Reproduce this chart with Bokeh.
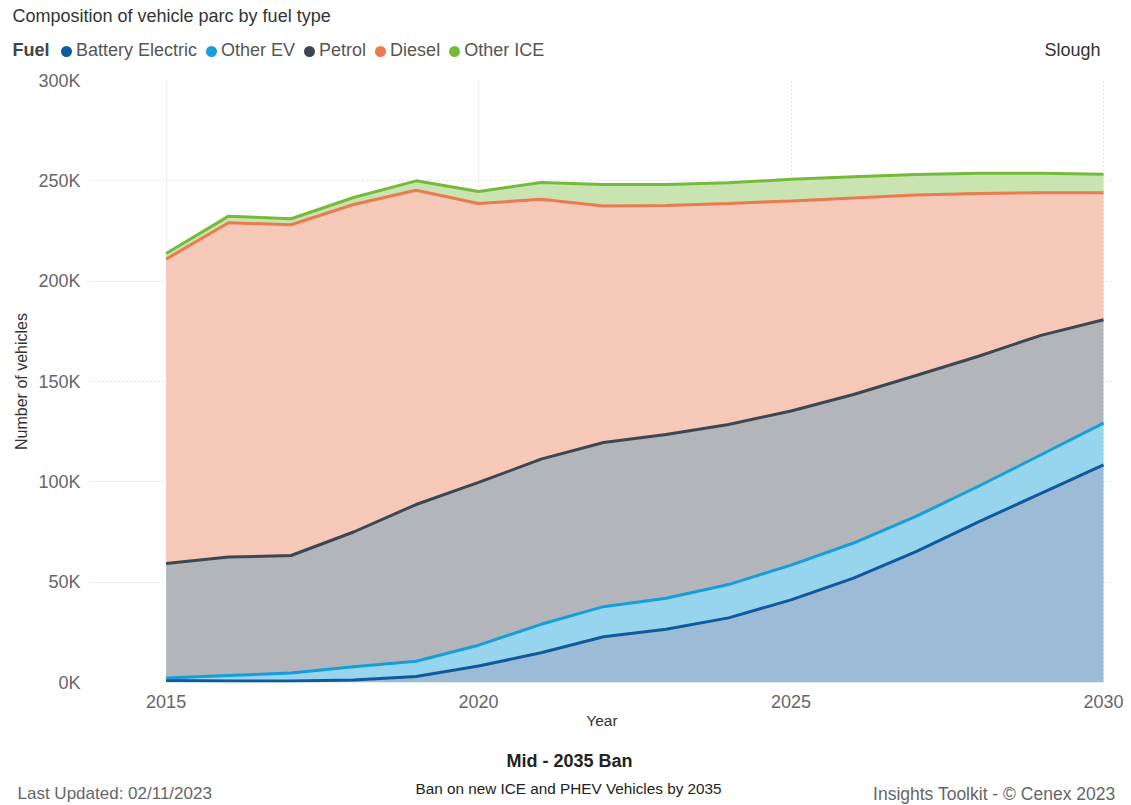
from bokeh.plotting import figure
from bokeh.layouts import column
from bokeh.models import ColumnDataSource, Range1d, FixedTicker, Label, Legend, LegendItem
from bokeh.embed import file_html
from bokeh.resources import INLINE

# ---------------- data ----------------
years = list(range(2015, 2031))
battery_electric = [1000, 800, 800, 1300, 3000, 8200, 14800, 22800, 26500, 32200, 41200, 52000, 65200, 80000, 94300, 108500]
other_ev = [1200, 2700, 3900, 6500, 7600, 10400, 14200, 15000, 15500, 16600, 17300, 17500, 17600, 17800, 19200, 20800]
petrol = [57100, 59000, 58600, 67200, 78100, 81100, 82300, 81800, 81600, 79800, 76800, 74000, 70200, 64800, 59500, 51500]
diesel = [151700, 166600, 164800, 163200, 156600, 139000, 129500, 117900, 114100, 110100, 104700, 98000, 90000, 81100, 71000, 63200]
other_ice = [2800, 3300, 3000, 3500, 4700, 6000, 8400, 10700, 10500, 10300, 10800, 10500, 10200, 10100, 9800, 9300]

series_names = ["Battery Electric", "Other EV", "Petrol", "Diesel", "Other ICE"]
series_keys = ["be", "oev", "petrol", "diesel", "oice"]
line_colors = ["#0e5a9c", "#179dd9", "#3d4751", "#ea7a4f", "#74bb3c"]
fill_colors = ["#9bbbd7", "#97d5ef", "#b2b6bb", "#f5c8b8", "#c9e4b1"]

x_ticks = [2015, 2020, 2025, 2030]
y_ticks = [0, 50000, 100000, 150000, 200000, 250000, 300000]
y_tick_labels = ["0K", "50K", "100K", "150K", "200K", "250K", "300K"]

chart_title = "Composition of vehicle parc by fuel type"
legend_title = "Fuel"
region = "Slough"
x_title = "Year"
y_title = "Number of vehicles"
scenario = "Mid - 2035 Ban"
scenario_desc = "Ban on new ICE and PHEV Vehicles by 2035"
updated = "Last Updated: 02/11/2023"
credit = "Insights Toolkit - \u00a9 Cenex 2023"

FONT = "Liberation Sans"
W = 1131


def bare(height):
    f = figure(width=W, height=height, output_backend="svg", toolbar_location=None,
               x_range=Range1d(0, 1), y_range=Range1d(0, 1),
               x_axis_location=None, y_axis_location=None, min_border=0)
    f.outline_line_color = None
    f.grid.visible = False
    f.background_fill_color = "white"
    f.border_fill_color = "white"
    f.frame_align = False
    return f


def lab(f, text, x, y, size, color, align="left", style="normal"):
    f.add_layout(Label(x=x, y=y, x_units="screen", y_units="screen", text=text,
                       text_font=FONT, text_font_size=size, text_color=color,
                       text_align=align, text_baseline="middle", text_font_style=style))


# ---------------- header ----------------
head = bare(60)
lab(head, chart_title, 12, 45, "18px", "#333333")
lab(head, legend_title, 12, 11, "18px", "#444444", style="bold")
lab(head, region, 1100, 11, "18px", "#333333", align="right")
items = []
for name, col in zip(series_names, line_colors):
    # a single point kept outside the visible range: only its legend marker shows
    r = head.scatter(x=[-5], y=[-5], marker="circle", fill_color=col, line_color=col, line_width=3)
    items.append(LegendItem(label=name, renderers=[r]))
legend = Legend(items=items, orientation="horizontal", location=(56, -1),
                padding=0, margin=0, spacing=4, label_standoff=0,
                glyph_width=20, glyph_height=20, label_height=20,
                label_text_font=FONT, label_text_font_size="18px", label_text_color="#555555",
                border_line_color=None, background_fill_alpha=0)
head.add_layout(legend, "center")

# ---------------- main chart ----------------
source = ColumnDataSource(dict(year=years, be=battery_electric, oev=other_ev,
                               petrol=petrol, diesel=diesel, oice=other_ice))

p = figure(width=W, height=675, output_backend="svg", toolbar_location=None,
           x_range=Range1d(2013.79, 2030.16), y_range=Range1d(0, 300000),
           min_border_left=90, min_border_right=18, min_border_top=20, min_border_bottom=53)
p.outline_line_color = None
p.background_fill_color = "white"
p.border_fill_color = "white"
p.frame_align = False

p.varea_stack(series_keys, x="year", source=source, color=fill_colors)
p.vline_stack(series_keys, x="year", source=source, color=line_colors, line_width=3)

p.xaxis.ticker = FixedTicker(ticks=x_ticks)
p.yaxis.ticker = FixedTicker(ticks=y_ticks)
p.yaxis.major_label_overrides = {t: l for t, l in zip(y_ticks, y_tick_labels)}
for ax in (p.xaxis[0], p.yaxis[0]):
    ax.axis_line_color = None
    ax.major_tick_line_color = None
    ax.minor_tick_line_color = None
    ax.major_label_text_font = FONT
    ax.major_label_text_font_size = "18px"
    ax.major_label_text_color = "#666666"
    ax.axis_label_text_font = FONT
    ax.axis_label_text_font_style = "normal"
    ax.axis_label_text_color = "#333333"
p.xaxis.axis_label = x_title
p.yaxis.axis_label = y_title
p.xaxis.axis_label_text_font_size = "15.5px"
p.yaxis.axis_label_text_font_size = "16px"
p.xaxis.major_label_standoff = 6
p.yaxis.major_label_standoff = 4
p.xaxis.axis_label_standoff = 1
p.yaxis.axis_label_standoff = 5

for g in (p.xgrid[0], p.ygrid[0]):
    g.grid_line_color = "#c8c8c8"
    g.grid_line_dash = "1 3"
    g.grid_line_width = 1
p.xgrid.ticker = FixedTicker(ticks=x_ticks)
p.ygrid.ticker = FixedTicker(ticks=y_ticks)

# ---------------- footer ----------------
foot = bare(70)
lab(foot, scenario, 569, 45, "18px", "#222222", align="center", style="bold")
lab(foot, scenario_desc, 568, 17, "15.3px", "#222222", align="center")
lab(foot, updated, 17, 12, "17px", "#666666")
lab(foot, credit, 1115, 12, "17.5px", "#666666", align="right")

layout = column(head, p, foot, spacing=0)
open("out.html", "w").write(file_html(layout, INLINE))
